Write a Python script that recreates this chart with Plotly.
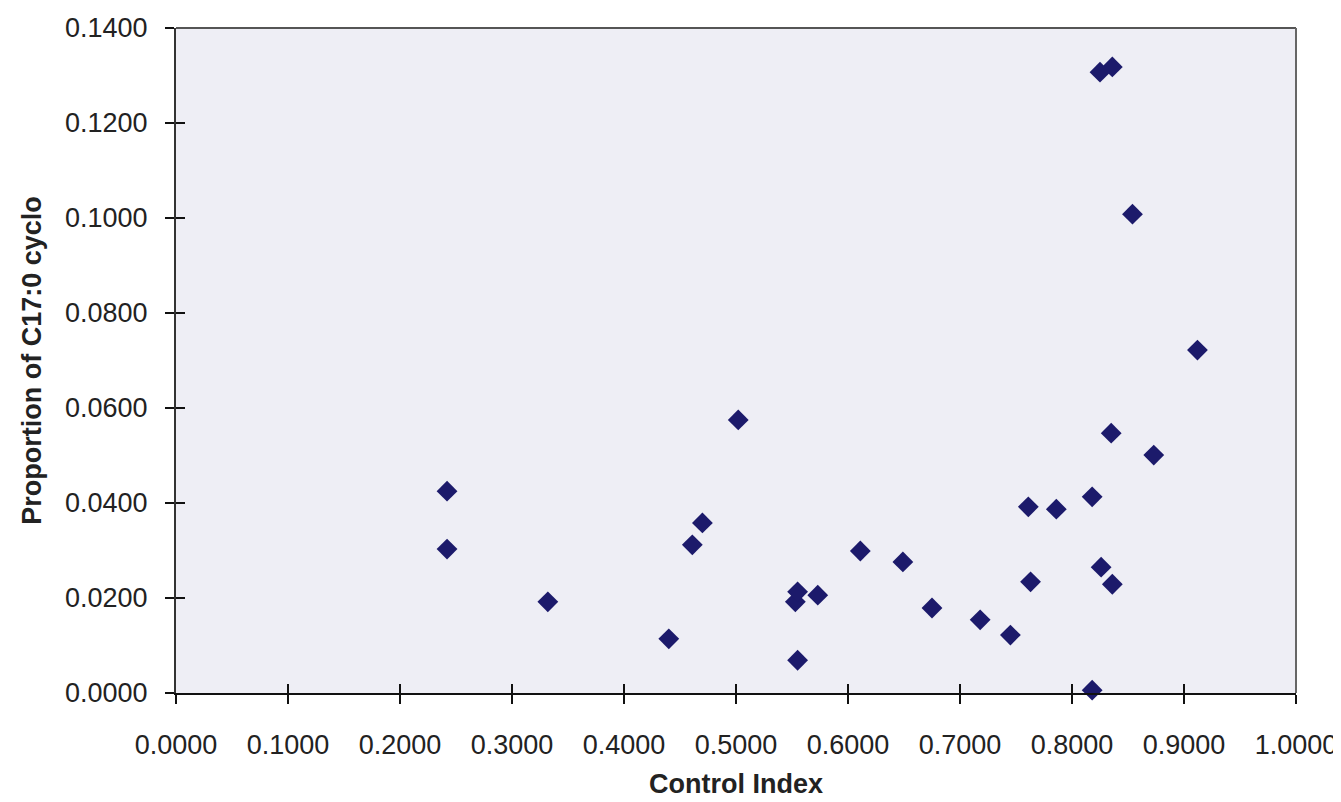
import plotly.graph_objects as go

control_index = [0.242, 0.242, 0.332, 0.440, 0.461, 0.470, 0.502, 0.553, 0.555, 0.573,
                 0.555, 0.611, 0.649, 0.675, 0.718, 0.745, 0.761, 0.763, 0.786, 0.818,
                 0.818, 0.826, 0.836, 0.835, 0.854, 0.825, 0.836, 0.873, 0.912]
proportion_c17 = [0.0425, 0.0303, 0.0192, 0.0114, 0.0312, 0.0358, 0.0575, 0.0192, 0.0213, 0.0206,
                  0.0069, 0.0299, 0.0276, 0.0179, 0.0154, 0.0122, 0.0392, 0.0234, 0.0387, 0.0413,
                  0.0006, 0.0265, 0.0229, 0.0547, 0.1008, 0.1307, 0.1318, 0.0501, 0.0722]

x_ticks = [0.0, 0.1, 0.2, 0.3, 0.4, 0.5, 0.6, 0.7, 0.8, 0.9, 1.0]
y_ticks = [0.0, 0.02, 0.04, 0.06, 0.08, 0.10, 0.12, 0.14]

fig = go.Figure()
# invisible twin trace to carry the inner tick marks (crossing ticks)
fig.add_trace(go.Scatter(
    x=control_index, y=proportion_c17, mode="markers", xaxis="x2", yaxis="y2",
    marker=dict(opacity=0), hoverinfo="skip", showlegend=False,
))
fig.add_trace(go.Scatter(
    x=control_index, y=proportion_c17, mode="markers",
    marker=dict(symbol="diamond", size=16, color="#1c1a6b", line=dict(width=0)),
    cliponaxis=False, showlegend=False,
))

font_family = "Liberation Sans, Arial, sans-serif"
tick_font = dict(family=font_family, size=27, color="#222222")
title_font = dict(family=font_family, size=27, color="#222222")
fig.update_layout(
    width=1341, height=802,
    margin=dict(l=168, r=53, t=20, b=117, autoexpand=False),
    paper_bgcolor="white",
    plot_bgcolor="#eeeef5",
    font=dict(family=font_family, size=27, color="#222222"),
    xaxis=dict(
        range=[0, 1], tickvals=x_ticks, tickformat=".4f", automargin=False,
        showgrid=False, zeroline=False,
        showline=True, linecolor="#111111", linewidth=2,
        ticks="outside", ticklen=9, tickcolor="#111111", tickwidth=1.5,
        ticklabelstandoff=18, tickfont=tick_font,
        title=dict(text="<b>Control Index</b>", font=title_font, standoff=15),
    ),
    yaxis=dict(
        range=[0, 0.14], tickvals=y_ticks, tickformat=".4f", automargin=False,
        showgrid=False, zeroline=False,
        showline=True, linecolor="#333333", linewidth=2,
        ticks="outside", ticklen=9, tickcolor="#111111", tickwidth=1.5,
        ticklabelstandoff=12, tickfont=tick_font,
        title=dict(text="<b>Proportion of C17:0 cyclo</b>", font=title_font, standoff=16),
    ),
    xaxis2=dict(
        range=[0, 1], tickvals=x_ticks, overlaying="x", anchor="y2", side="bottom",
        automargin=False,
        showgrid=False, zeroline=False, showline=False, showticklabels=False,
        ticks="inside", ticklen=9, tickcolor="#111111", tickwidth=1.5,
    ),
    yaxis2=dict(
        range=[0, 0.14], tickvals=y_ticks, overlaying="y", anchor="x2", side="left",
        automargin=False,
        showgrid=False, zeroline=False, showline=False, showticklabels=False,
        ticks="inside", ticklen=9, tickcolor="#111111", tickwidth=1.5,
    ),
    shapes=[
        dict(type="line", xref="paper", yref="paper", x0=0, x1=1, y0=1, y1=1,
             line=dict(color="#555555", width=2)),
        dict(type="line", xref="paper", yref="paper", x0=1, x1=1, y0=0, y1=1,
             line=dict(color="#666666", width=2)),
    ],
)

fig.write_html("out.html")
